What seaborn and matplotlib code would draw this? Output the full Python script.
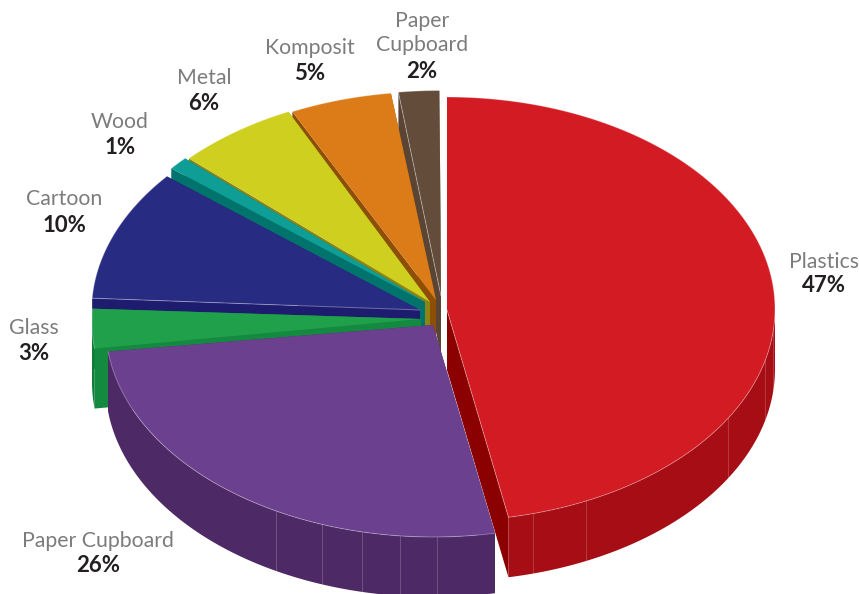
import numpy as np
import matplotlib
matplotlib.use("Agg")
import matplotlib.pyplot as plt
import seaborn as sns

# Waste composition, clockwise from twelve o'clock
materials = ["Plastics", "Paper Cupboard", "Glass", "Cartoon", "Wood", "Metal", "Komposit", "Paper\nCupboard"]
shares = [47, 26, 3, 10, 1, 6, 5, 2]

# Colours per slice: top surface, outer wall, cut face
top_colors = ["#D21B23", "#6B418F", "#20A04A", "#282B82", "#0E9E95", "#CFCF1F", "#DC7C18", "#634C3A"]
wall_colors = ["#A60D14", "#4D2965", "#0F7C38", "#1D1C6E", "#00736C", "#8C8414", "#8E4E05", "#584332"]
cut_colors = ["#8B0000", "#4D2965", "#138A3F", "#1D1C6E", "#00736C", "#8C8414", "#8E4E05", "#5A4535"]

# Layout of the exploded disc, in pixels
RX, RY, DEPTH = 328, 212, 60
centres = [(447, 309), (433.5, 325), (420, 322), (419.5, 311.5), (424, 303.5),
           (428, 303.5), (432, 303.5), (439.5, 302.5)]
tips = [(447, 310), (433, 325), (421, 319), (420, 310), (425, 302),
        (430, 302), (436, 300), (441, 296)]
label_xy = [(824, 262), (98, 541), (34, 328), (64, 199), (120, 122), (204, 78), (310, 48), (422, 33)]
value_xy = [(824, 286), (98, 566), (34, 353), (64, 226), (120, 148), (204, 103), (310, 74), (422, 72)]
# Panel seams on the outer wall, as angles clockwise from the top
seams = {0: [96, 104, 121, 155, 164.8], 1: [179.4, 185.9, 192.6, 199.9, 208.7]}
# Slice edges that carry a pale highlight: slice index -> 0 for start edge, 1 for end edge
pale_edges = {0: 1, 3: 0, 7: 0}

sns.set_theme(style="white")
plt.rcParams["font.family"] = ["Lato", "Open Sans", "DejaVu Sans"]
top_pal = sns.color_palette(top_colors)
wall_pal = sns.color_palette(wall_colors)
cut_pal = sns.color_palette(cut_colors)

fig = plt.figure(figsize=(8.59, 5.94), dpi=100)
ax = fig.add_axes([0, 0, 1, 1])
ax.set_xlim(0, 859)
ax.set_ylim(594, 0)
ax.axis("off")


def rim(centre, deg):
    """Points on the ellipse for angles measured clockwise from the top."""
    t = np.radians(deg)
    return centre[0] + RX * np.sin(t), centre[1] - RY * np.cos(t)


bounds = np.concatenate([[0], np.cumsum(shares)]) * 3.6
# Back slices first so nearer slices cover them; the purple one sits in front
order = [7, 6, 5, 4, 3, 2, 0, 1]
for layer, i in enumerate(order):
    a0, a1 = bounds[i], bounds[i + 1]
    c, tip = centres[i], tips[i]
    z = layer * 10

    # Cut faces running from the tip to the rim
    for a in (a0, a1):
        x, y = rim(c, a)
        ax.fill([tip[0], x, x, tip[0]], [tip[1], y, y + DEPTH, tip[1] + DEPTH],
                color=cut_pal[i], lw=0, zorder=z + 1)

    # Outer wall, only where it faces the viewer
    w0, w1 = max(a0, 90), min(a1, 270)
    if w1 > w0:
        arc = np.linspace(w0, w1, 120)
        x, y = rim(c, arc)
        ax.fill(np.r_[x, x[::-1]], np.r_[y, y[::-1] + DEPTH],
                color=wall_pal[i], lw=0, zorder=z + 2)
        for s in seams.get(i, []):
            sx, sy = rim(c, s)
            ax.plot([sx, sx], [sy, sy + DEPTH], color="white", alpha=0.18, lw=0.8, zorder=z + 3)

    # Top surface with a fine highlight along its outer edge
    arc = np.linspace(a0, a1, 240)
    x, y = rim(c, arc)
    ax.fill(np.r_[tip[0], x], np.r_[tip[1], y], color=top_pal[i], lw=0, zorder=z + 4)
    ax.plot(x, y, color="white", alpha=0.3, lw=0.7, zorder=z + 5)
    if i in pale_edges:
        ex, ey = rim(c, (a0, a1)[pale_edges[i]])
        ax.plot([tip[0], ex], [tip[1], ey], color="white", alpha=0.35, lw=0.7, zorder=z + 5)

for name, share, lxy, vxy in zip(materials, shares, label_xy, value_xy):
    ax.text(*lxy, name, ha="center", va="center", fontsize=15.3, fontweight="normal",
            color="#7C7C7C", linespacing=1.25, zorder=200)
    ax.text(*vxy, f"{share}%", ha="center", va="center", fontsize=16, fontweight="bold",
            color="#231F20", zorder=200)

fig.savefig("out.png", dpi=100)
